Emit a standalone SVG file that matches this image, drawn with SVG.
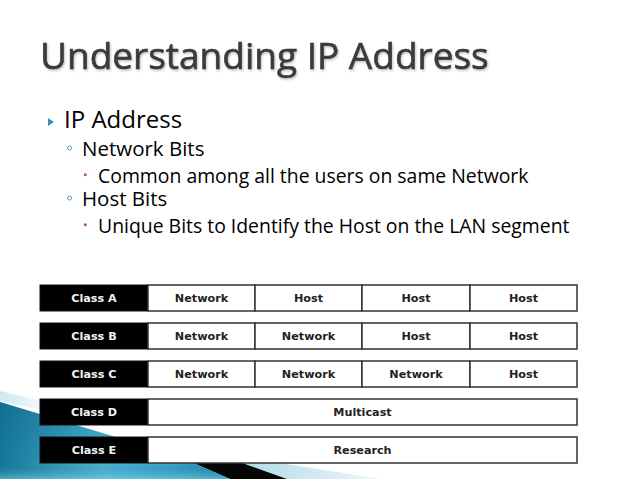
<svg xmlns="http://www.w3.org/2000/svg" width="638" height="479" viewBox="0 0 638 479">
  <defs>
    <linearGradient id="teal" x1="0" y1="0" x2="1" y2="0">
      <stop offset="0" stop-color="#14789b"/>
      <stop offset="0.45" stop-color="#4db5d6"/>
      <stop offset="0.75" stop-color="#35a3c7"/>
      <stop offset="1" stop-color="#1a86ab"/>
    </linearGradient>
    <linearGradient id="tealV" x1="0" y1="0" x2="0" y2="1">
      <stop offset="0" stop-color="#0d5f7c" stop-opacity="0.35"/>
      <stop offset="0.8" stop-color="#0d5f7c" stop-opacity="0"/>
      <stop offset="1" stop-color="#8adcf0" stop-opacity="0.5"/>
    </linearGradient>
    <linearGradient id="light" x1="0" y1="0" x2="1" y2="0">
      <stop offset="0" stop-color="#9fd0e4"/>
      <stop offset="1" stop-color="#eef7fb"/>
    </linearGradient>
    <linearGradient id="lightTL" x1="0" y1="0" x2="1" y2="0">
      <stop offset="0" stop-color="#cfe8f2"/>
      <stop offset="1" stop-color="#ffffff"/>
    </linearGradient>
    <filter id="shadow" x="-5%" y="-20%" width="110%" height="140%">
      <feDropShadow dx="1" dy="1.5" stdDeviation="1" flood-color="#000" flood-opacity="0.25"/>
    </filter>
  </defs>
  <style>
    .title { font-family: "Open Sans", "Liberation Sans", sans-serif; font-size: 37px; fill: #3a3a3a; stroke: #3a3a3a; stroke-width: 0.6; }
    .b1 { font-family: "Open Sans", "Liberation Sans", sans-serif; font-size: 24px; fill: #000; }
    .b2 { font-family: "Open Sans", "Liberation Sans", sans-serif; font-size: 20.5px; fill: #000; }
    .b3 { font-family: "Open Sans", "Liberation Sans", sans-serif; font-size: 19.4px; fill: #000; }
    .lab { fill: #000; stroke: #111; stroke-width: 1; }
    .cell { fill: #fff; stroke: #333; stroke-width: 1.5; }
    .lt { font-family: "DejaVu Sans", Verdana, sans-serif; font-weight: bold; font-size: 11.2px; fill: #f2f2f2; text-anchor: middle; }
    .ct { font-family: "DejaVu Sans", Verdana, sans-serif; font-weight: bold; font-size: 11.2px; fill: #222; text-anchor: middle; }
  </style>
  <rect width="638" height="479" fill="#fff"/>

  <!-- decorative swoosh bottom-left -->
  <g id="decoration">
    <polygon points="0,391 60,405 60,414 0,401" fill="url(#lightTL)"/>
    <polygon points="200,450 380,479 287,479" fill="url(#light)"/>
    <polygon points="175,455 220,455 287,479 230,479" fill="#050505"/>
    <polygon points="0,402 175,455 230,479 0,479" fill="url(#teal)"/>
    <polygon points="0,402 175,455 230,479 0,479" fill="url(#tealV)"/>
  </g>

  <g id="title">
    <text class="title" x="40" y="69" filter="url(#shadow)">Understanding IP Address</text>
  </g>

  <g id="bullets">
    <polygon points="48,118 54,122 48,126" fill="#3f8fb4"/>
    <text class="b1" x="64" y="128">IP Address</text>
    <circle cx="69.5" cy="148" r="2" fill="none" stroke="#4a9fc2" stroke-width="1"/>
    <text class="b2" x="82" y="156">Network Bits</text>
    <rect x="84" y="173.5" width="2.6" height="2.6" fill="#c0504d"/>
    <text class="b3" x="98" y="183">Common among all the users on same Network</text>
    <circle cx="69.5" cy="198" r="2" fill="none" stroke="#4a9fc2" stroke-width="1"/>
    <text class="b2" x="82" y="206">Host Bits</text>
    <rect x="84" y="223.5" width="2.6" height="2.6" fill="#c0504d"/>
    <text class="b3" x="98" y="233">Unique Bits to Identify the Host on the LAN segment</text>
  </g>

  <g id="classA">
    <rect class="lab" x="40" y="285" width="108" height="26"/>
    <rect class="cell" x="148" y="285" width="107" height="26"/>
    <rect class="cell" x="255" y="285" width="107" height="26"/>
    <rect class="cell" x="362" y="285" width="108" height="26"/>
    <rect class="cell" x="470" y="285" width="107" height="26"/>
    <text class="lt" x="94" y="302">Class A</text>
    <text class="ct" x="201.5" y="302">Network</text>
    <text class="ct" x="308.5" y="302">Host</text>
    <text class="ct" x="416" y="302">Host</text>
    <text class="ct" x="523.5" y="302">Host</text>
  </g>
  <g id="classB">
    <rect class="lab" x="40" y="323" width="108" height="26"/>
    <rect class="cell" x="148" y="323" width="107" height="26"/>
    <rect class="cell" x="255" y="323" width="107" height="26"/>
    <rect class="cell" x="362" y="323" width="108" height="26"/>
    <rect class="cell" x="470" y="323" width="107" height="26"/>
    <text class="lt" x="94" y="340">Class B</text>
    <text class="ct" x="201.5" y="340">Network</text>
    <text class="ct" x="308.5" y="340">Network</text>
    <text class="ct" x="416" y="340">Host</text>
    <text class="ct" x="523.5" y="340">Host</text>
  </g>
  <g id="classC">
    <rect class="lab" x="40" y="361" width="108" height="26"/>
    <rect class="cell" x="148" y="361" width="107" height="26"/>
    <rect class="cell" x="255" y="361" width="107" height="26"/>
    <rect class="cell" x="362" y="361" width="108" height="26"/>
    <rect class="cell" x="470" y="361" width="107" height="26"/>
    <text class="lt" x="94" y="378">Class C</text>
    <text class="ct" x="201.5" y="378">Network</text>
    <text class="ct" x="308.5" y="378">Network</text>
    <text class="ct" x="416" y="378">Network</text>
    <text class="ct" x="523.5" y="378">Host</text>
  </g>
  <g id="classD">
    <rect class="lab" x="40" y="399" width="108" height="26"/>
    <rect class="cell" x="148" y="399" width="429" height="26"/>
    <text class="lt" x="94" y="416">Class D</text>
    <text class="ct" x="362.5" y="416">Multicast</text>
  </g>
  <g id="classE">
    <rect class="lab" x="40" y="437" width="108" height="26"/>
    <rect class="cell" x="148" y="437" width="429" height="26"/>
    <text class="lt" x="94" y="454">Class E</text>
    <text class="ct" x="362.5" y="454">Research</text>
  </g>
</svg>
